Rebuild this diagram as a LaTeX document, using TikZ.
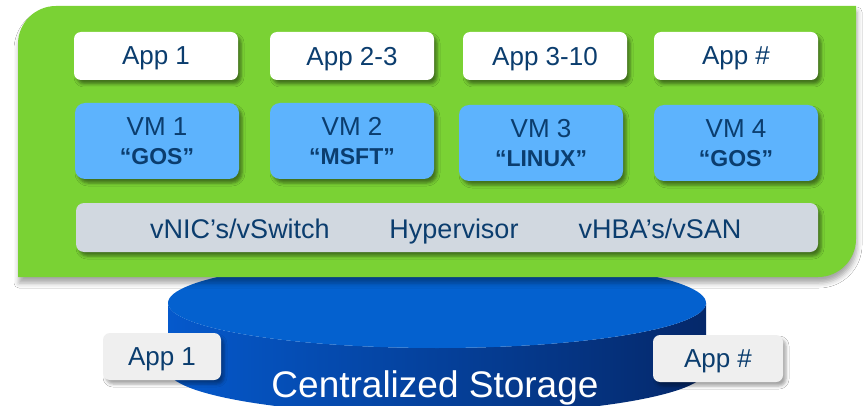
\documentclass[tikz,border=0pt]{standalone}
\usepackage{fontspec}
\setmainfont{Liberation Sans}
\usetikzlibrary{shadows.blur}
\definecolor{panelgreen}{HTML}{7AD234}
\definecolor{vmblue}{HTML}{5DB3FD}
\definecolor{txtblue}{HTML}{0B3D6E}
\definecolor{barg}{HTML}{D1D8E0}
\definecolor{appgray}{HTML}{EFEFEF}
\definecolor{cylL}{HTML}{0559CC}
\definecolor{cylM}{HTML}{0348AE}
\definecolor{cylR}{HTML}{05286A}
\definecolor{cyltop}{HTML}{0461CF}
\begin{document}
\begin{tikzpicture}[x=1pt,y=1pt,
  boxshadow/.style={blur shadow={shadow xshift=3pt, shadow yshift=-4pt, shadow blur radius=3pt, shadow opacity=45}},
  appbox/.style={fill=white, rounded corners=7pt, minimum width=164pt, minimum height=48pt,
    inner sep=0pt, text=txtblue, text depth=0pt, font=\fontsize{26}{30}\selectfont, boxshadow},
  vmbox/.style={fill=vmblue, rounded corners=10pt, minimum width=164pt, minimum height=76pt,
    inner sep=0pt, text=txtblue, align=center, font=\fontsize{26}{29}\selectfont, boxshadow},
  bartext/.style={text=txtblue, anchor=base, inner sep=0pt, font=\fontsize{27}{30}\selectfont},
  lowbox/.style={fill=appgray, rounded corners=7pt, minimum height=47pt,
    inner sep=0pt, text=txtblue, text depth=0pt, font=\fontsize{26}{30}\selectfont,
    blur shadow={shadow xshift=3pt, shadow yshift=-4pt, shadow blur radius=3pt, shadow opacity=35}}]
\useasboundingbox (0,-406) rectangle (864,0);
\fill[white] (0,-406) rectangle (864,0);
% storage cylinder
\shade[left color=cylL, middle color=cylM, right color=cylR]
  (168,-303) -- (168,-370) arc[start angle=180, end angle=360, x radius=269, y radius=45]
  -- (706,-303) arc[start angle=0, end angle=-180, x radius=269, y radius=45] -- cycle;
\fill[cyltop] (437,-303) ellipse[x radius=269, y radius=45];
% green panel
\fill[panelgreen, blur shadow={shadow xshift=1pt, shadow yshift=-6pt, shadow blur radius=5pt, shadow opacity=35}]
  (18,-277) -- (18,-44) arc[start angle=180, end angle=90, radius=38]
  -- (856,-6) -- (856,-239) arc[start angle=0, end angle=-90, radius=38] -- cycle;
% application boxes
\node[appbox] (app1) at (156,-56) {App 1};
\node[appbox] (app23) at (352,-56) {App 2-3};
\node[appbox] (app310) at (545,-56) {App 3-10};
\node[appbox] (appn) at (736,-56) {App \#};
% VM boxes
\node[vmbox] (vm1) at (157,-141) {VM 1\\{\fontsize{23}{29}\selectfont\bfseries “GOS”}};
\node[vmbox] (vm2) at (352,-141) {VM 2\\{\fontsize{23}{29}\selectfont\bfseries “MSFT”}};
\node[vmbox] (vm3) at (541,-143) {VM 3\\{\fontsize{23}{29}\selectfont\bfseries “LINUX”}};
\node[vmbox] (vm4) at (736,-143) {VM 4\\{\fontsize{23}{29}\selectfont\bfseries “GOS”}};
% hypervisor bar
\node[fill=barg, rounded corners=8pt, minimum width=742pt, minimum height=49pt, inner sep=0pt, boxshadow] (hyp) at (447,-227.5) {};
\node[bartext] (vnic) at (240,-238) {vNIC’s/vSwitch};
\node[bartext] (hyper) at (454,-238) {Hypervisor};
\node[bartext] (vhba) at (660,-238) {vHBA’s/vSAN};
% storage apps
\node[lowbox, minimum width=118pt] (sapp1) at (162,-356.5) {App 1};
\node[lowbox, minimum width=130pt] (sappn) at (718,-358.5) {App \#};
\node[text=white, anchor=base, inner sep=0pt, font=\fontsize{37}{40}\selectfont] (cs) at (435,-397) {Centralized Storage};
\end{tikzpicture}
\end{document}
